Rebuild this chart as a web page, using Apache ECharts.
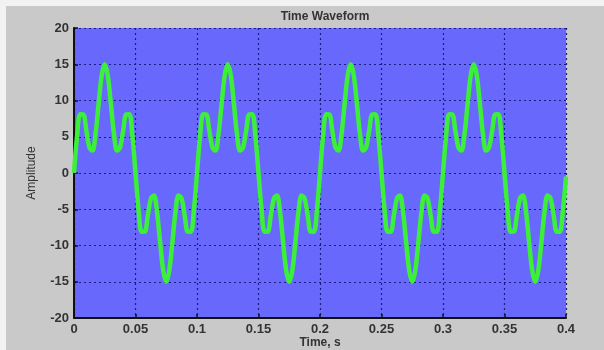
<!DOCTYPE html>
<html>
<head>
<meta charset="utf-8">
<script src="https://cdn.jsdelivr.net/npm/echarts@6/dist/echarts.min.js"></script>
<style>
html,body{margin:0;padding:0;background:#c9c9c9;}
#chart{width:604px;height:350px;}
</style>
</head>
<body>
<div id="chart"></div>
<script>
const title = 'Time Waveform';
const xName = 'Time, s';
const yName = 'Amplitude';
const tStep = 0.0025;
// amplitude samples, every 2.5 ms from 0 to 0.4 s
const amplitude = [
 0, 5.1, 8.09, 8.08, 5.88, 3.54, 3.09, 5.37, 9.51, 13.41,
 15, 13.41, 9.51, 5.37, 3.09, 3.54, 5.88, 8.08, 8.09, 5.1,
 0, -5.1, -8.09, -8.08, -5.88, -3.54, -3.09, -5.37, -9.51, -13.41,
 -15, -13.41, -9.51, -5.37, -3.09, -3.54, -5.88, -8.08, -8.09, -5.1,
 0, 5.1, 8.09, 8.08, 5.88, 3.54, 3.09, 5.37, 9.51, 13.41,
 15, 13.41, 9.51, 5.37, 3.09, 3.54, 5.88, 8.08, 8.09, 5.1,
 0, -5.1, -8.09, -8.08, -5.88, -3.54, -3.09, -5.37, -9.51, -13.41,
 -15, -13.41, -9.51, -5.37, -3.09, -3.54, -5.88, -8.08, -8.09, -5.1,
 0, 5.1, 8.09, 8.08, 5.88, 3.54, 3.09, 5.37, 9.51, 13.41,
 15, 13.41, 9.51, 5.37, 3.09, 3.54, 5.88, 8.08, 8.09, 5.1,
 0, -5.1, -8.09, -8.08, -5.88, -3.54, -3.09, -5.37, -9.51, -13.41,
 -15, -13.41, -9.51, -5.37, -3.09, -3.54, -5.88, -8.08, -8.09, -5.1,
 0, 5.1, 8.09, 8.08, 5.88, 3.54, 3.09, 5.37, 9.51, 13.41,
 15, 13.41, 9.51, 5.37, 3.09, 3.54, 5.88, 8.08, 8.09, 5.1,
 0, -5.1, -8.09, -8.08, -5.88, -3.54, -3.09, -5.37, -9.51, -13.41,
 -15, -13.41, -9.51, -5.37, -3.09, -3.54, -5.88, -8.08, -8.09, -5.1,
 -0.5
];
const xTicks = ['0','0.05','0.1','0.15','0.2','0.25','0.3','0.35','0.4'];
const yTicks = ['-20','-15','-10','-5','0','5','10','15','20'];

const seriesData = amplitude.map((v, i) => [+(i * tStep).toFixed(4), v]);
const chart = echarts.init(document.getElementById('chart'), null, {renderer: 'canvas'});
const font = 'Liberation Sans, Arial, sans-serif';
const gridLine = {show: true, lineStyle: {color: '#1c1c80', type: [2, 3], width: 1.2}};
chart.setOption({
  backgroundColor: '#c9c9c9',
  animation: false,
  title: {
    text: title, left: 320, top: 6, textAlign: 'center',
    textStyle: {fontFamily: font, fontSize: 12, fontWeight: 'bold', color: '#333'}
  },
  graphic: [
    {type: 'rect', shape: {x: 0, y: 0, width: 604, height: 6}, style: {fill: '#f2f2f2'}, silent: true},
    {type: 'rect', shape: {x: 0, y: 0, width: 6, height: 350}, style: {fill: '#f2f2f2'}, silent: true}
  ],
  grid: {left: 74, right: 38, top: 28, bottom: 32, show: true, backgroundColor: '#6868fd', borderWidth: 0,
    containLabel: false, outerBoundsMode: 'none'},
  xAxis: {
    type: 'value', min: 0, max: 0.4, interval: 0.05,
    name: xName, nameLocation: 'middle', nameGap: 19, nameMoveOverlap: false,
    nameTextStyle: {fontFamily: font, fontSize: 12, fontWeight: 'bold', color: '#333'},
    axisLine: {show: true, onZero: false, lineStyle: {color: '#111', width: 2}},
    axisTick: {show: true, inside: true, length: 4, lineStyle: {color: '#111', width: 1.5}},
    axisLabel: {fontFamily: font, fontSize: 13, fontWeight: 'bold', color: '#333', margin: 5,
      formatter: (v) => xTicks[Math.round(v / 0.05)]},
    splitLine: gridLine
  },
  yAxis: {
    type: 'value', min: -20, max: 20, interval: 5,
    name: yName, nameLocation: 'middle', nameGap: 36, nameRotate: 90, nameMoveOverlap: false,
    nameTextStyle: {fontFamily: font, fontSize: 12, color: '#333'},
    axisLine: {show: true, onZero: false, lineStyle: {color: '#111', width: 2}},
    axisTick: {show: true, inside: true, length: 4, lineStyle: {color: '#111', width: 1.5}},
    axisLabel: {fontFamily: font, fontSize: 13, fontWeight: 'bold', color: '#333', margin: 5,
      formatter: (v) => yTicks[Math.round((v + 20) / 5)]},
    splitLine: gridLine
  },
  series: [{
    type: 'line', data: seriesData, showSymbol: false, smooth: 0.35,
    lineStyle: {color: '#3cf03a', width: 4.5}, clip: true
  }]
});
</script>
</body>
</html>
